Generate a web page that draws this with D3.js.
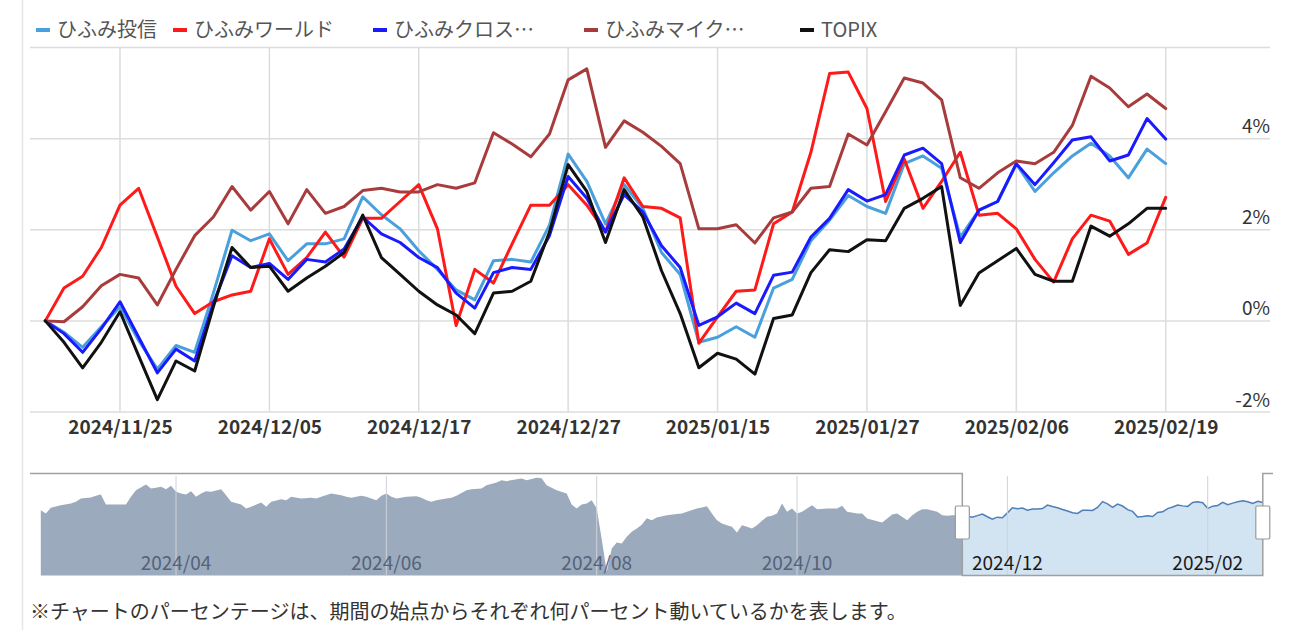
<!DOCTYPE html>
<html><head><meta charset="utf-8">
<script src="https://cdn.jsdelivr.net/npm/d3@7"></script>
<style>
body{margin:0;background:#fff;}
text{font-family:"Noto Sans CJK JP","Noto Sans",sans-serif;}
</style>
</head><body>
<script>
// ---------------- DATA ----------------
const dates = [
 "2024/11/19","2024/11/20","2024/11/21","2024/11/22","2024/11/25","2024/11/26","2024/11/27","2024/11/28","2024/11/29",
 "2024/12/02","2024/12/03","2024/12/04","2024/12/05","2024/12/06","2024/12/09","2024/12/10","2024/12/11","2024/12/12","2024/12/13",
 "2024/12/16","2024/12/17","2024/12/18","2024/12/19","2024/12/20","2024/12/23","2024/12/24","2024/12/25","2024/12/26","2024/12/27","2024/12/30",
 "2025/01/06","2025/01/07","2025/01/08","2025/01/09","2025/01/10","2025/01/14","2025/01/15","2025/01/16","2025/01/17",
 "2025/01/20","2025/01/21","2025/01/22","2025/01/23","2025/01/24","2025/01/27","2025/01/28","2025/01/29","2025/01/30","2025/01/31",
 "2025/02/03","2025/02/04","2025/02/05","2025/02/06","2025/02/07","2025/02/10","2025/02/12","2025/02/13","2025/02/14",
 "2025/02/17","2025/02/18","2025/02/19"];

const seriesNames = ["ひふみ投信","ひふみワールド","ひふみクロス…","ひふみマイク…","TOPIX"];

const hifumi = [0,-0.25,-0.58,-0.13,0.31,-0.43,-1.06,-0.54,-0.69,0.61,1.99,1.76,1.91,1.32,1.69,1.69,1.80,2.72,2.33,2.02,
 1.54,1.13,0.68,0.46,1.32,1.35,1.29,2.10,3.66,3.06,2.13,2.99,2.47,1.50,1.02,-0.47,-0.36,-0.13,-0.36,0.72,
 0.91,1.76,2.21,2.75,2.51,2.36,3.45,3.62,3.35,1.84,2.43,2.62,3.44,2.84,3.25,3.62,3.90,3.62,3.14,3.77,3.45];

const world = [0,0.72,0.98,1.61,2.54,2.91,1.84,0.76,0.16,0.42,0.57,0.65,1.80,1.02,1.39,1.95,1.40,2.25,2.25,2.62,
 2.99,2.02,-0.10,1.13,0.83,1.69,2.54,2.54,2.99,2.54,1.95,3.14,2.51,2.47,2.26,-0.49,0.09,0.65,0.68,2.13,
 2.39,3.70,5.43,5.46,4.66,2.62,3.55,2.47,3.06,3.70,2.32,2.36,2.02,1.35,0.85,1.80,2.32,2.19,1.46,1.71,2.71];

const cross = [0,-0.28,-0.69,-0.17,0.42,-0.36,-1.14,-0.62,-0.88,0.39,1.43,1.17,1.26,0.91,1.35,1.29,1.58,2.28,1.91,1.72,
 1.39,1.17,0.61,0.28,1.06,1.17,1.13,1.87,3.17,2.69,1.95,2.77,2.39,1.65,1.17,-0.10,0.09,0.39,0.16,1.00,
 1.07,1.84,2.25,2.88,2.63,2.77,3.64,3.79,3.45,1.72,2.43,2.62,3.45,2.99,3.47,3.97,4.04,3.51,3.64,4.44,3.99];

const micro = [0,-0.02,0.31,0.77,1.02,0.94,0.35,1.13,1.87,2.28,2.95,2.43,2.84,2.13,2.88,2.36,2.51,2.86,2.91,2.83,
 2.83,2.99,2.91,3.03,4.13,3.88,3.60,4.10,5.29,5.53,3.81,4.39,4.14,3.83,3.45,2.02,2.02,2.11,1.71,2.26,
 2.39,2.91,2.95,4.10,3.86,4.59,5.33,5.22,4.85,3.14,2.91,3.25,3.51,3.45,3.70,4.29,5.37,5.11,4.70,4.98,4.66];

const topix = [0,-0.47,-1.03,-0.47,0.20,-0.77,-1.73,-0.88,-1.10,0.31,1.61,1.17,1.20,0.65,0.94,1.20,1.50,2.32,1.39,1.02,
 0.65,0.35,0.13,-0.28,0.61,0.65,0.87,1.95,3.43,2.84,1.72,2.88,2.28,1.10,0.16,-1.03,-0.71,-0.84,-1.17,0.05,
 0.13,1.06,1.56,1.52,1.78,1.76,2.47,2.69,2.95,0.34,1.05,1.32,1.59,1.02,0.87,0.87,2.08,1.86,2.13,2.47,2.47];

const yTickValues = [-2,0,2,4,6];
const yLabelValues = [-2,0,2,4];
const xTickDates = ["2024/11/25","2024/12/05","2024/12/17","2024/12/27","2025/01/15","2025/01/27","2025/02/06","2025/02/19"];

// navigator: one year of ひふみ投信 (% vs. 2024/11/19), [trading-day index, value]
const navHistory = [
 [1,1.35],[2,0.45],[3,1.98],[5,2.70],[7,3.15],[8,3.60],[9,4.50],[11,4.80],[12,5.23],[13,5.59],[14,2.88],[18,2.88],
 [19,4.95],[20,6.76],[22,8.29],[23,7.21],[24,7.39],[25,7.66],[26,7.03],[27,7.93],[28,6.31],[29,5.86],[30,5.59],
 [31,6.49],[32,4.95],[33,5.86],[34,6.49],[35,6.31],[37,7.03],[38,5.41],[39,3.60],[41,2.88],[42,1.80],[43,2.25],
 [45,3.42],[46,2.25],[47,3.60],[49,4.32],[50,4.05],[51,4.95],[53,4.50],[55,4.68],[56,4.50],[57,4.95],[59,5.86],
 [61,5.40],[62,4.95],[63,4.68],[65,5.23],[66,4.95],[67,4.50],[68,4.05],[69,5.23],[70,5.86],[71,4.95],[72,4.50],
 [74,4.95],[76,5.14],[77,4.68],[78,4.05],[79,3.60],[80,4.05],[82,4.50],[83,4.68],[84,5.23],[86,6.76],[87,7.03],
 [89,7.21],[90,8.11],[92,8.83],[93,9.46],[94,9.19],[96,9.73],[97,9.91],[98,9.46],[100,10.09],[101,10.0],[102,8.11],
 [103,7.39],[104,6.76],[106,5.86],[107,2.88],[108,1.80],[109,2.88],[110,3.15],[111,4.05],[112,1.80],[113,-6.5],
 [114,-15.3],[115,-9.0],[116,-7.4],[117,-7.66],[118,-5.86],[119,-4.5],[120,-3.6],[121,-2.6],[122,-0.8],[123,-1.35],
 [124,-0.6],[126,0],[128,0.3],[129,0.45],[130,0.9],[132,1.8],[133,2.1],[134,2.43],[135,0.45],[136,-1.35],[137,-2.25],
 [138,-2.7],[139,-3.15],[140,-4.68],[141,-2.7],[142,-3.15],[143,-3.6],[144,-2.7],[145,-1.5],[146,-0.45],[147,-0.18],
 [148,0.45],[149,3.15],[150,0.9],[151,1.8],[152,0.45],[153,0.9],[154,1.8],[155,2.7],[156,1.62],[158,1.8],[160,1.8],
 [161,2.52],[162,0.9],[164,0.45],[165,0.45],[166,-0.9],[168,-1.62],[169,-1.98],[170,-0.9],[171,0.18],[172,0.45],
 [174,-1.35],[175,0],[176,0.9],[177,1.62],[178,1.62],[180,0.9],[181,0],[182,-0.18],[183,0],[184,0]];
const navSelStart = 185;          // index of 2024/11/19
const navLastIdx = 245;           // index of 2025/02/19
const navTickIdx = [28,70,112,152,194,234];
const navTickLabels = ["2024/04","2024/06","2024/08","2024/10","2024/12","2025/02"];

const footNote = "※チャートのパーセンテージは、期間の始点からそれぞれ何パーセント動いているかを表します。";

// ---------------- STYLE / LAYOUT ----------------
const colors = ["#4aa0dc","#ff1a1a","#1a1aff","#a83c3c","#111111"];
const legendX = [36,173,373,584,800];
const seriesValues = [hifumi, world, cross, micro, topix];

const W = 1300, H = 630;
const svg = d3.select("body").append("svg").attr("width", W).attr("height", H);
svg.append("rect").attr("width", W).attr("height", H).attr("fill", "#fff");
svg.append("line").attr("x1",22.5).attr("x2",22.5).attr("y1",0).attr("y2",H).attr("stroke","#e6e6e6").attr("stroke-width",1.5);

const x = d3.scalePoint().domain(dates).range([45.3, 1165.7]);
const y = d3.scaleLinear().domain([-2, 6]).range([412, 47.5]);

// grid
svg.append("g").selectAll("line").data(yTickValues).join("line")
  .attr("x1", 30).attr("x2", 1270).attr("y1", d => y(d)).attr("y2", d => y(d))
  .attr("stroke", "#dcdcdc").attr("stroke-width", 1.5);
svg.append("g").selectAll("line").data(xTickDates).join("line")
  .attr("x1", d => x(d)).attr("x2", d => x(d)).attr("y1", y(6)).attr("y2", y(-2))
  .attr("stroke", "#dcdcdc").attr("stroke-width", 1.5);

// y axis labels (right side)
const yAxis = svg.append("g").attr("transform", "translate(1270,0)")
  .call(d3.axisLeft(y).tickValues(yLabelValues).tickFormat(d => d + "%").tickSize(0).tickPadding(0));
yAxis.select(".domain").remove();
yAxis.selectAll("text").attr("dy", null).attr("y", -6)
  .style("font-size", "19px").attr("fill", "#333").style("font-family", '"Noto Sans CJK JP","Noto Sans",sans-serif');

// x axis labels
const xAxis = svg.append("g").attr("transform", "translate(0,412)")
  .call(d3.axisBottom(x).tickValues(xTickDates).tickSize(0).tickPadding(8));
xAxis.select(".domain").remove();
xAxis.selectAll("text").style("font-size", "19px").style("font-weight", "bold").attr("fill", "#333")
  .style("font-family", '"Noto Sans CJK JP","Noto Sans",sans-serif');

// lines
const line = d3.line().x((d, i) => x(dates[i])).y(d => y(d)).curve(d3.curveLinear);
svg.append("g").selectAll("path").data(seriesValues).join("path")
  .attr("d", d => line(d)).attr("fill", "none")
  .attr("stroke", (d, i) => colors[i]).attr("stroke-width", 3)
  .attr("stroke-linejoin", "round").attr("stroke-linecap", "round");

// legend
const lg = svg.append("g").selectAll("g").data(seriesNames).join("g")
  .attr("transform", (d, i) => `translate(${legendX[i]},30)`);
lg.append("line").attr("x1", 0).attr("x2", 14).attr("y1", 0).attr("y2", 0)
  .attr("stroke", (d, i) => colors[i]).attr("stroke-width", 4);
lg.append("text").attr("x", 21).attr("dy", "0.35em").text(d => d)
  .style("font-size", "20px").attr("fill", "#555");

// ---------------- NAVIGATOR ----------------
const nx = d3.scaleLinear().domain([0, navLastIdx]).range([35.8, 1262.8]);
const ny = d3.scaleLinear().domain([-16.3, 10.5]).range([575.5, 476.3]);
const navBottom = 575.5;

const preData = navHistory.concat([[navSelStart, hifumi[0]]]);
const selData = hifumi.map((v, i) => [navSelStart + i, v]);

svg.append("path").datum(preData)
  .attr("d", d3.area().x(d => nx(d[0])).y0(navBottom).y1(d => ny(d[1])))
  .attr("fill", "#9baabd");
svg.append("path").datum(selData)
  .attr("d", d3.area().x(d => nx(d[0])).y0(navBottom).y1(d => ny(d[1])))
  .attr("fill", "#d2e3f1");
svg.append("path").datum(selData)
  .attr("d", d3.line().x(d => nx(d[0])).y(d => ny(d[1])))
  .attr("fill", "none").attr("stroke", "#4f7fb8").attr("stroke-width", 1.5);

svg.append("g").selectAll("line").data(navTickIdx).join("line")
  .attr("x1", d => nx(d)).attr("x2", d => nx(d)).attr("y1", 476).attr("y2", navBottom)
  .attr("stroke", "#cfd3d8").attr("stroke-width", 1);
svg.append("g").selectAll("text").data(navTickIdx).join("text")
  .attr("x", d => nx(d)).attr("y", 570).attr("text-anchor", "middle")
  .style("font-size", "19px")
  .attr("fill", d => d < navSelStart ? "#55627a" : "#1a1a1a")
  .text((d, i) => navTickLabels[i]);

// outline
const sx0 = nx(navSelStart), sx1 = nx(navLastIdx);
svg.append("path")
  .attr("d", `M30,473.5H${sx0}V${navBottom}H${sx1}V473.5H1273`)
  .attr("fill", "none").attr("stroke", "#a0a0a0").attr("stroke-width", 1.5);
[sx0, sx1].forEach(hx => {
  svg.append("rect").attr("x", hx - 7).attr("y", 506).attr("width", 14).attr("height", 33)
    .attr("rx", 1.5).attr("fill", "#fff").attr("stroke", "#999").attr("stroke-width", 1.2);
});

// footnote
svg.append("text").attr("x", 30).attr("y", 612).attr("dy", "0.35em")
  .style("font-size", "20px").attr("fill", "#333").text(footNote);
</script>
</body></html>
